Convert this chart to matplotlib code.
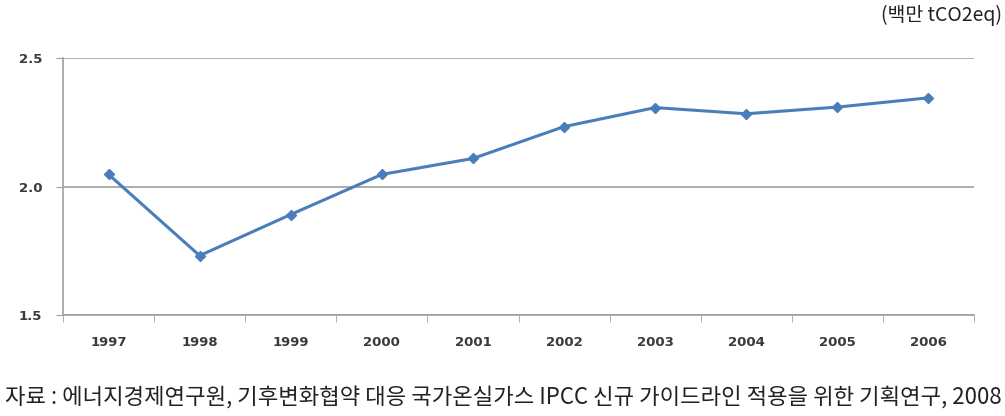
import matplotlib
matplotlib.use("Agg")
import matplotlib.pyplot as plt

# 연도별 배출량 (백만 tCO2eq)
years = ["1997", "1998", "1999", "2000", "2001", "2002", "2003", "2004", "2005", "2006"]
values = [2.047, 1.731, 1.891, 2.047, 2.109, 2.233, 2.307, 2.283, 2.309, 2.345]
y_ticks = [1.5, 2.0, 2.5]

unit_text = "(백만 tCO2eq)"
source_text = "자료 : 에너지경제연구원, 기후변화협약 대응 국가온실가스 IPCC 신규 가이드라인 적용을 위한 기획연구, 2008"

kr_font = ["Noto Sans CJK KR", "DejaVu Sans"]
grey = "#a0a0a0"

fig = plt.figure(figsize=(10.05, 4.16), dpi=100)
ax = fig.add_axes([63 / 1005, 1 - 315 / 416, 911 / 1005, 257 / 416])

x = list(range(len(years)))
ax.plot(x, values, color="#4a7ebb", linewidth=2.2, marker="D", markersize=5.5,
        markerfacecolor="#4a7ebb", markeredgecolor="#4a7ebb", zorder=3)

ax.set_xlim(-0.5, len(years) - 0.5)
ax.set_ylim(1.5, 2.5)
ax.set_yticks(y_ticks)
ax.set_yticklabels([f"{v:.1f}" for v in y_ticks])
ax.set_xticks(x)
ax.set_xticklabels(years)
ax.set_xticks([i - 0.5 for i in range(len(years) + 1)], minor=True)

ax.grid(axis="y", color=grey, linewidth=1.2)
ax.set_axisbelow(True)
for side in ["top", "right"]:
    ax.spines[side].set_visible(False)
for side in ["left", "bottom"]:
    ax.spines[side].set_color(grey)
    ax.spines[side].set_linewidth(1.2)

ax.tick_params(axis="x", which="major", length=0, pad=15, labelcolor="#3a3a3a")
ax.tick_params(axis="x", which="minor", length=5, color=grey, direction="out")
ax.tick_params(axis="y", length=5, color=grey, pad=10, labelcolor="#3a3a3a")
for lbl in ax.get_xticklabels() + ax.get_yticklabels():
    lbl.set_fontsize(9.5)
    lbl.set_fontweight("bold")

fig.text(0.997, 1 - 15 / 416, unit_text, ha="right", va="center", fontsize=14,
         family=kr_font, fontweight="light", color="#222222")
fig.text(5 / 1005, 1 - 398 / 416, source_text, ha="left", va="center", fontsize=16,
         family=kr_font, fontweight="light", color="#222222")

fig.savefig("out.png", dpi=100)
